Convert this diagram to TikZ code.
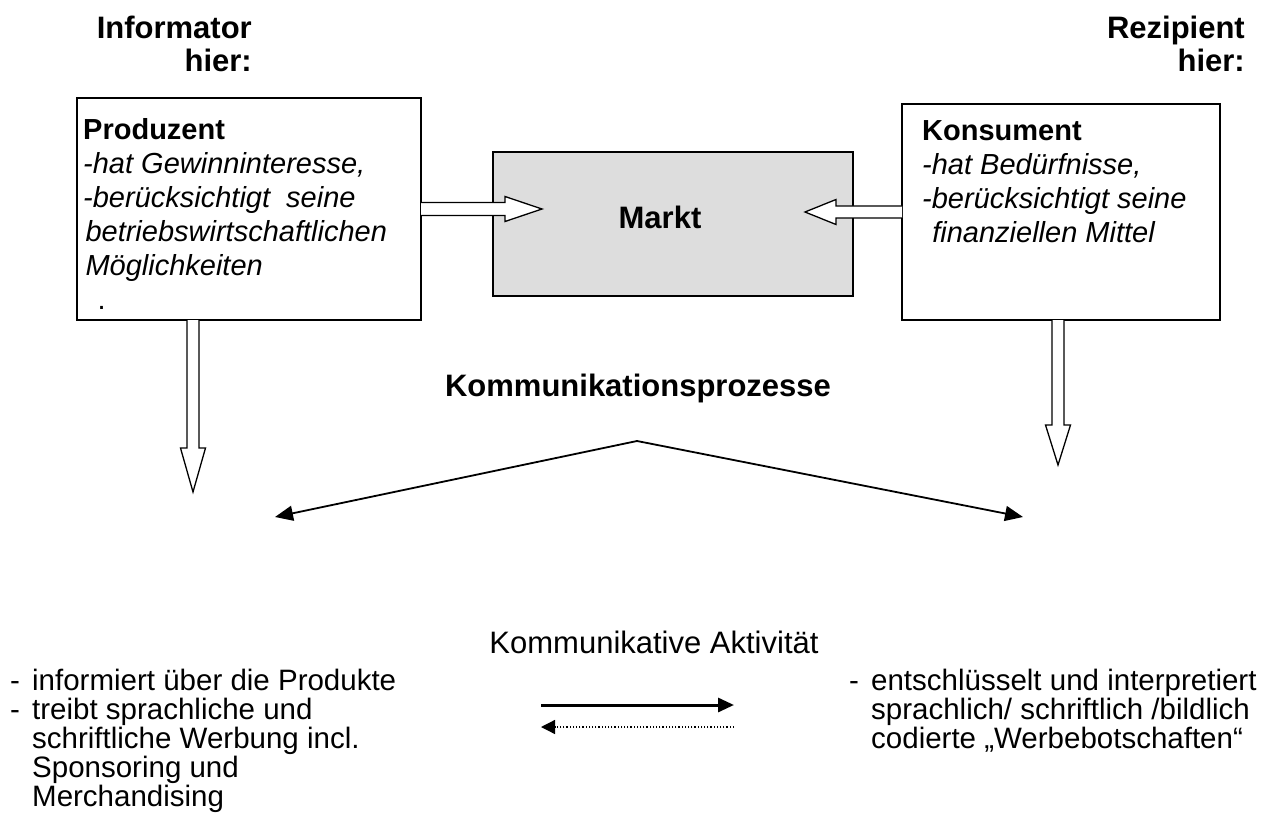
\documentclass[tikz,border=0pt]{standalone}
\usepackage{fontspec}
\setmainfont{Liberation Sans}
\usetikzlibrary{arrows.meta,calc}
\definecolor{marktgrey}{RGB}{221,221,221}
\begin{document}
\begin{tikzpicture}[x=1pt,y=-1pt,
  box/.style={draw, line width=1.3pt, inner sep=0pt, outer sep=0pt},
  boxtext/.style={anchor=base west, align=left, inner sep=0pt, font=\fontsize{29}{34}\selectfont},
  head/.style={inner sep=0pt, font=\bfseries\fontsize{31}{33}\selectfont},
  listtext/.style={anchor=base west, align=left, inner sep=0pt, font=\fontsize{29.5}{29}\selectfont},
  vline/.style={line width=1.8pt, -{Triangle[length=18pt,width=15pt]}},
  pics/harrow/.style n args={4}{code={
    \draw[line width=1.3pt, fill=white] (0,#3) -- ({#1-#2},#3) -- ({#1-#2},#4) -- (#1,0)
      -- ({#1-#2},-#4) -- ({#1-#2},-#3) -- (0,-#3);}}
]
\useasboundingbox (0,0) rectangle (1266,813);

% headers (base = last line)
\node[head, anchor=base east, align=right] (inf) at (252,72) {Informator\\hier:};
\node[head, anchor=base east, align=right] (rez) at (1245,72) {Rezipient\\hier:};

% boxes
\node[box, minimum width=344pt, minimum height=222pt, anchor=north west] (prod) at (77,98) {};
\node[box, fill=marktgrey, minimum width=360pt, minimum height=144pt, anchor=north west] (markt) at (493,152) {};
\node[box, minimum width=318pt, minimum height=216pt, anchor=north west] (kons) at (902,104) {};

\node[boxtext] (prodtext) at (83,309) {\textbf{Produzent}\\
  \textit{-hat Gewinninteresse,}\\
  \textit{-berücksichtigt\ \ seine}\\
  \hspace*{0.08em}\textit{betriebswirtschaftlichen}\\
  \hspace*{0.08em}\textit{Möglichkeiten}\\
  \hspace*{0.5em}.};
\node[boxtext] (konstext) at (922,242) {\textbf{Konsument}\\
  \textit{-hat Bedürfnisse,}\\
  \textit{-berücksichtigt seine}\\
  \hspace*{0.35em}\textit{finanziellen Mittel}};
\node[head, anchor=base] (marktlabel) at (660,229) {Markt};

% hollow arrows
\pic at (prod.east) {harrow={121}{37}{6.5}{12.5}};
\pic[rotate=180] at (kons.west) {harrow={97}{31}{6}{12.5}};
\pic[rotate=-90] at ([xshift=-56pt]prod.south) {harrow={172}{44}{6}{12.5}};
\pic[rotate=-90] at ([xshift=-3pt]kons.south) {harrow={145}{40}{6}{12.5}};

% Kommunikationsprozesse
\node[head, anchor=base] (kp) at (638,396) {Kommunikationsprozesse};
\coordinate (apex) at (637,441);
\coordinate (vl) at (275,517);
\coordinate (vr) at (1023,517);
\draw[vline] (apex) -- (vl);
\draw[vline] (apex) -- (vr);

% Kommunikative Aktivitaet
\node[inner sep=0pt, anchor=base, font=\fontsize{31}{33}\selectfont] (ka) at (654,653) {Kommunikative Aktivität};
\coordinate (a1s) at (541,705);
\coordinate (a1e) at (734,705);
\coordinate (a2s) at (734,727);
\coordinate (a2e) at (541,727);
\draw[line width=3pt, -{Triangle[length=16pt,width=14pt]}] (a1s) -- (a1e);
\draw[line width=1.3pt, dash pattern=on 1.3pt off 1.9pt, -{Triangle[length=14pt,width=14pt]}] (a2s) -- (a2e);

% lists (base = last line)
\node[listtext] (ltext) at (10,806) {\makebox[22pt][l]{-}informiert über die Produkte\\
  \makebox[22pt][l]{-}treibt sprachliche und\\
  \hspace*{22pt}schriftliche Werbung incl.\\
  \hspace*{22pt}Sponsoring und\\
  \hspace*{22pt}Merchandising};
\node[listtext] (rtext) at (849,748) {\makebox[22pt][l]{-}entschlüsselt und interpretiert\\
  \hspace*{22pt}sprachlich/ schriftlich /bildlich\\
  \hspace*{22pt}codierte „Werbebotschaften“};
\end{tikzpicture}
\end{document}
